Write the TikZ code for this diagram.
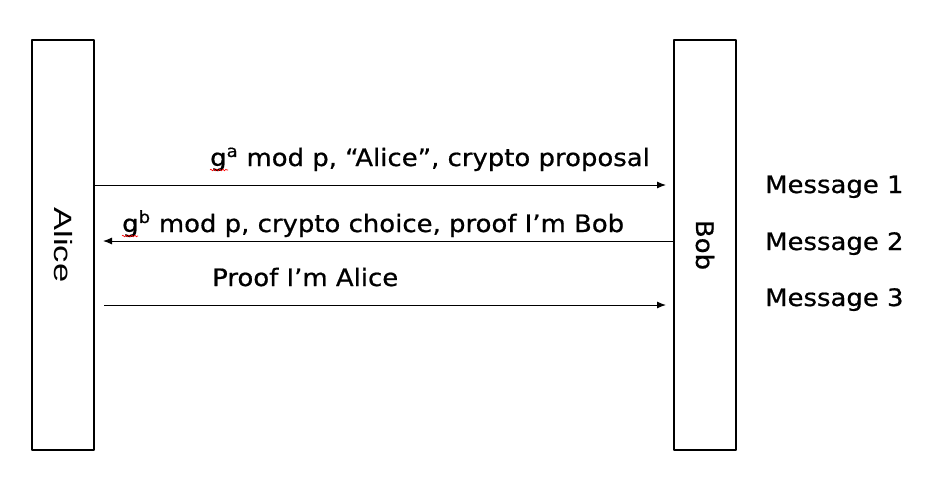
\documentclass[tikz,border=0pt]{standalone}
\usepackage{fontspec}
\usepackage{graphicx}
\newfontfamily\comic[FakeStretch=1.08,FakeBold=0.7]{DejaVu Sans}
\newfontfamily\arial{Liberation Sans}
\usetikzlibrary{arrows.meta,decorations.pathmorphing}

\tikzset{
	party/.style={draw, line width=1.2pt, minimum width=62pt, minimum height=410pt, inner sep=0pt},
	msg/.style={->, line width=1pt},
	lbl/.style={anchor=base west, inner sep=0pt, font=\comic\fontsize{24}{28}\selectfont},
	squiggle/.style={red, line width=0.6pt, decorate, decoration={snake, amplitude=0.8pt, segment length=3pt}}
}

\begin{document}
\begin{tikzpicture}[x=1pt, y=-1pt, >={Latex[length=9pt,width=7pt]}, line join=round]
	\useasboundingbox (0,0) rectangle (945,480);
	\path 
	(666,185) coordinate (E1)
	(103,241) coordinate (E2)
	(104,305) coordinate (S3)
	(666,305) coordinate (E3)
	;
	\node[party] (alice) at (63,245) {\rotatebox{-90}{\arial\fontsize{25}{30}\selectfont\scalebox{1.38}[1]{Alice}}};
	\node[party] (bob) at (705,245) {\rotatebox{-90}{\comic\fontsize{24}{28}\selectfont Bob}};
	\draw[msg] (alice.east |- E1) -- (E1);
	\draw[msg] (bob.west |- E2) -- (E2);
	\draw[msg] (S3) -- (E3);
	\node[lbl] (m1) at (210,166) {g\textsuperscript{a} mod p, “Alice”, crypto proposal};
	\node[lbl] (m2) at (122,232) {g\textsuperscript{b} mod p, crypto choice, proof I’m Bob};
	\node[lbl] (m3) at (212,286) {Proof I’m Alice};
	\draw[squiggle] ([yshift=-4pt]m1.base west) -- ++(18,0);
	\draw[squiggle] ([yshift=-4pt]m2.base west) -- ++(16,0);
	\foreach \i/\y in {1/193,2/250,3/306}
	\node[lbl] (msg\i) at (765,\y) {Message \i};
\end{tikzpicture}
\end{document}
